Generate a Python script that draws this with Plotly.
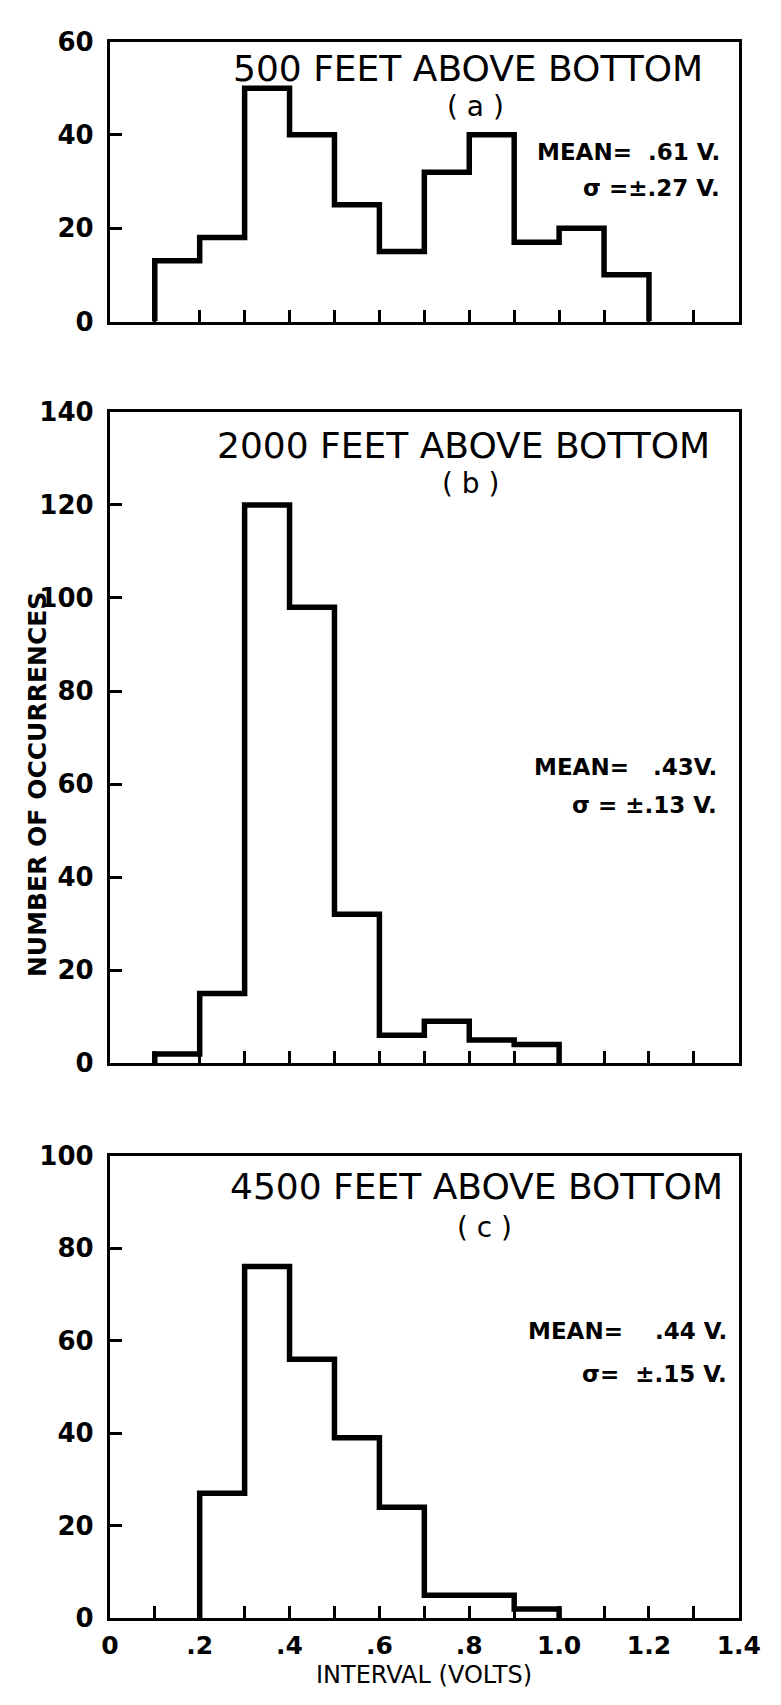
import plotly.graph_objects as go

W, H = 781, 1705

# ---- data ----
edges_a = [0.1, 0.2, 0.3, 0.4, 0.5, 0.6, 0.7, 0.8, 0.9, 1.0, 1.1, 1.2]
counts_a = [13, 18, 50, 40, 25, 15, 32, 40, 17, 20, 10]

edges_b = [0.1, 0.2, 0.3, 0.4, 0.5, 0.6, 0.7, 0.8, 0.9, 1.0]
counts_b = [2, 15, 120, 98, 32, 6, 9, 5, 4]

edges_c = [0.2, 0.3, 0.4, 0.5, 0.6, 0.7, 0.8, 0.9, 1.0]
counts_c = [27, 76, 56, 39, 24, 5, 5, 2]

titles = ["500 FEET ABOVE BOTTOM", "2000 FEET ABOVE BOTTOM", "4500 FEET ABOVE BOTTOM"]
letters = ["( a )", "( b )", "( c )"]
means = ["MEAN=  .61 V.", "MEAN=   .43V.", "MEAN=    .44 V."]
sigmas = ["σ =±.27 V.", "σ = ±.13 V.", "σ=  ±.15 V."]
y_max = [60, 140, 100]
y_ticks = [[0, 20, 40, 60], [0, 20, 40, 60, 80, 100, 120, 140], [0, 20, 40, 60, 80, 100]]
x_ticks = [0.0, 0.1, 0.2, 0.3, 0.4, 0.5, 0.6, 0.7, 0.8, 0.9, 1.0, 1.1, 1.2, 1.3, 1.4]
x_ticklabels = ["0", "", ".2", "", ".4", "", ".6", "", ".8", "", "1.0", "", "1.2", "", "1.4"]

# ---- layout geometry (pixels) ----
X0, X1 = 105, 760
panels_px = [(27, 312), (404, 1067), (1161, 1632)]  # top, bottom
title_pos = [(478, 54, 93), (473, 438, 477), (487, 1192, 1234)]
stat_pos = [(742, 139, 176), (739, 765, 804), (750, 1340, 1383)]

def px(x):
    return x / W

def py(y):
    return 1 - y / H

FONT = "DejaVu Sans"

fig = go.Figure()

datasets = [(edges_a, counts_a), (edges_b, counts_b), (edges_c, counts_c)]
for i, (edges, counts) in enumerate(datasets):
    xs = [edges[0]] + list(edges[:-1]) + [edges[-1]]
    ys = [0] + list(counts) + [0]
    fig.add_trace(go.Scatter(
        x=xs, y=ys, mode="lines", line=dict(shape="hv", color="black", width=5.5),
        xaxis="x" if i == 0 else f"x{i+1}", yaxis="y" if i == 0 else f"y{i+1}",
        showlegend=False, cliponaxis=False, hoverinfo="skip"))

layout = dict(
    width=W, height=H, margin=dict(l=0, r=0, t=0, b=0),
    paper_bgcolor="white", plot_bgcolor="white", showlegend=False,
)

for i in range(3):
    top, bot = panels_px[i]
    xname = "xaxis" if i == 0 else f"xaxis{i+1}"
    yname = "yaxis" if i == 0 else f"yaxis{i+1}"
    yref = "y" if i == 0 else f"y{i+1}"
    xref = "x" if i == 0 else f"x{i+1}"
    last = (i == 2)
    layout[xname] = dict(
        domain=[px(X0), px(X1)], range=[0, 1.4], anchor=yref,
        showgrid=False, zeroline=False, showline=True, mirror=True,
        linecolor="black", linewidth=3,
        ticks="inside", ticklen=12, tickwidth=3, tickcolor="black",
        tickvals=x_ticks, ticktext=x_ticklabels if last else [""] * len(x_ticks),
        showticklabels=last, ticklabelstandoff=3, ticklabeloverflow="allow",
        tickfont=dict(family=FONT, size=25, color="black", weight="bold"),
        fixedrange=True,
    )
    layout[yname] = dict(
        domain=[py(bot), py(top)], range=[0, y_max[i]], anchor=xref,
        showgrid=False, zeroline=False, showline=True, mirror=True,
        linecolor="black", linewidth=3,
        ticks="inside", ticklen=12, tickwidth=3, tickcolor="black",
        tickvals=y_ticks[i], ticktext=[str(v) for v in y_ticks[i]],
        ticklabelstandoff=8, ticklabeloverflow="allow",
        tickfont=dict(family=FONT, size=26, color="black", weight="bold"),
        fixedrange=True,
    )

annotations = []
for i in range(3):
    tx, ty1, ty2 = title_pos[i]
    annotations.append(dict(x=px(tx), y=py(ty1), xref="paper", yref="paper",
                            text=titles[i], showarrow=False, xanchor="center", yanchor="middle",
                            font=dict(family=FONT, size=36, color="black")))
    annotations.append(dict(x=px(tx + 8), y=py(ty2), xref="paper", yref="paper",
                            text=letters[i], showarrow=False, xanchor="center", yanchor="middle",
                            font=dict(family=FONT, size=28, color="black")))
    sx, sy1, sy2 = stat_pos[i]
    annotations.append(dict(x=px(sx), y=py(sy1), xref="paper", yref="paper",
                            text=means[i], showarrow=False, xanchor="right", yanchor="middle",
                            font=dict(family=FONT, size=23, color="black", weight="bold")))
    annotations.append(dict(x=px(sx), y=py(sy2), xref="paper", yref="paper",
                            text=sigmas[i], showarrow=False, xanchor="right", yanchor="middle",
                            font=dict(family=FONT, size=23, color="black", weight="bold")))

annotations.append(dict(x=px(29), y=py(783), xref="paper", yref="paper",
                        text="NUMBER OF OCCURRENCES", showarrow=False, textangle=-90,
                        xanchor="center", yanchor="middle",
                        font=dict(family=FONT, size=25, color="black", weight="bold")))
annotations.append(dict(x=px(432), y=py(1690), xref="paper", yref="paper",
                        text="INTERVAL (VOLTS)", showarrow=False,
                        xanchor="center", yanchor="middle",
                        font=dict(family=FONT, size=24, color="black")))

layout["annotations"] = annotations
fig.update_layout(**layout)
fig.write_html("out.html")
